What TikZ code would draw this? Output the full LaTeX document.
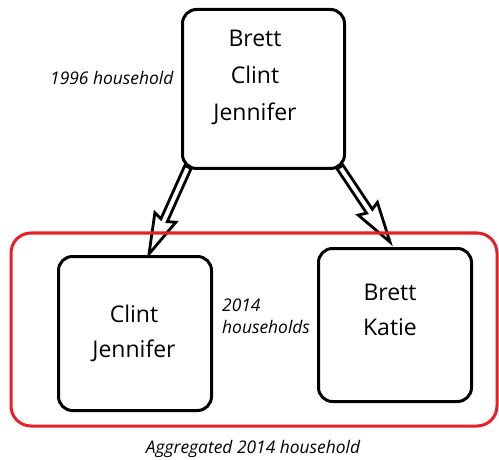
\documentclass[tikz,border=0pt]{standalone}
\usepackage{fontspec}
\setmainfont{Open Sans}
\usetikzlibrary{calc}
\pgfdeclarelayer{background}
\pgfsetlayers{background,main}
\definecolor{grpred}{RGB}{232,30,40}
\tikzset{
 box/.style={draw, line width=3pt, rounded corners=14pt, fill=white, inner sep=0pt},
 names/.style={align=center, font=\fontsize{23}{37}\selectfont, inner sep=0pt},
 names2/.style={align=center, font=\fontsize{23}{35}\selectfont, inner sep=0pt},
 lab/.style={font=\itshape\fontsize{17.4}{22}\selectfont, align=left, inner sep=0pt},
 hollow/.style={draw, line width=2.8pt, fill=white, line join=miter},
 group/.style={draw=grpred, line width=3pt, rounded corners=20pt, inner sep=0pt}
}
\newcommand\harrow[2]{%
 \coordinate (hn) at ($(#2)!37pt!(#1)$);
 \coordinate (hb) at ($(#2)!40pt!(#1)$);
 \draw[hollow] ($(#1)!3.5pt!90:(#2)$) -- ($(hn)!3.5pt!90:(#2)$) -- ($(hb)!11.5pt!90:(#2)$) -- (#2)
   -- ($(hb)!11.5pt!-90:(#2)$) -- ($(hn)!3.5pt!-90:(#2)$) -- ($(#1)!3.5pt!-90:(#2)$) -- cycle;
}
\begin{document}
\begin{tikzpicture}[x=1pt,y=-1pt]
\useasboundingbox (0,0) rectangle (499,460);
\node[box, minimum width=162pt, minimum height=159pt] (top) at (263.5,89) {};
\node[box, minimum width=153pt, minimum height=154pt] (left) at (135,333.5) {};
\node[box, minimum width=153pt, minimum height=153pt] (right) at (395,325) {};
\node[group, minimum width=486pt, minimum height=193pt] (agg) at (254,329.5) {};
\node[names] (t1) at (255,77) {Brett\\Clint\\Jennifer};
\node[names2] (l1) at (134,333) {Clint\\Jennifer};
\node[names2] (r1) at (390,310) {Brett\\Katie};
\node[lab, anchor=west] (l96) at (50,78) {1996 household};
\node[lab, anchor=west] (l14) at (222,316) {2014\\households};
\node[lab] (aggl) at (253,449) {Aggregated 2014 household};
\coordinate (sl) at ($(top.south west)+(7,-3)$);
\coordinate (el) at ($(left.north)+(14,-1)$);
\coordinate (sr) at ($(top.south east)+(-6,-3)$);
\coordinate (er) at ($(right.north)+(-5,-5)$);
\begin{pgfonlayer}{background}
\harrow{sl}{el}
\harrow{sr}{er}
\end{pgfonlayer}
\end{tikzpicture}
\end{document}
